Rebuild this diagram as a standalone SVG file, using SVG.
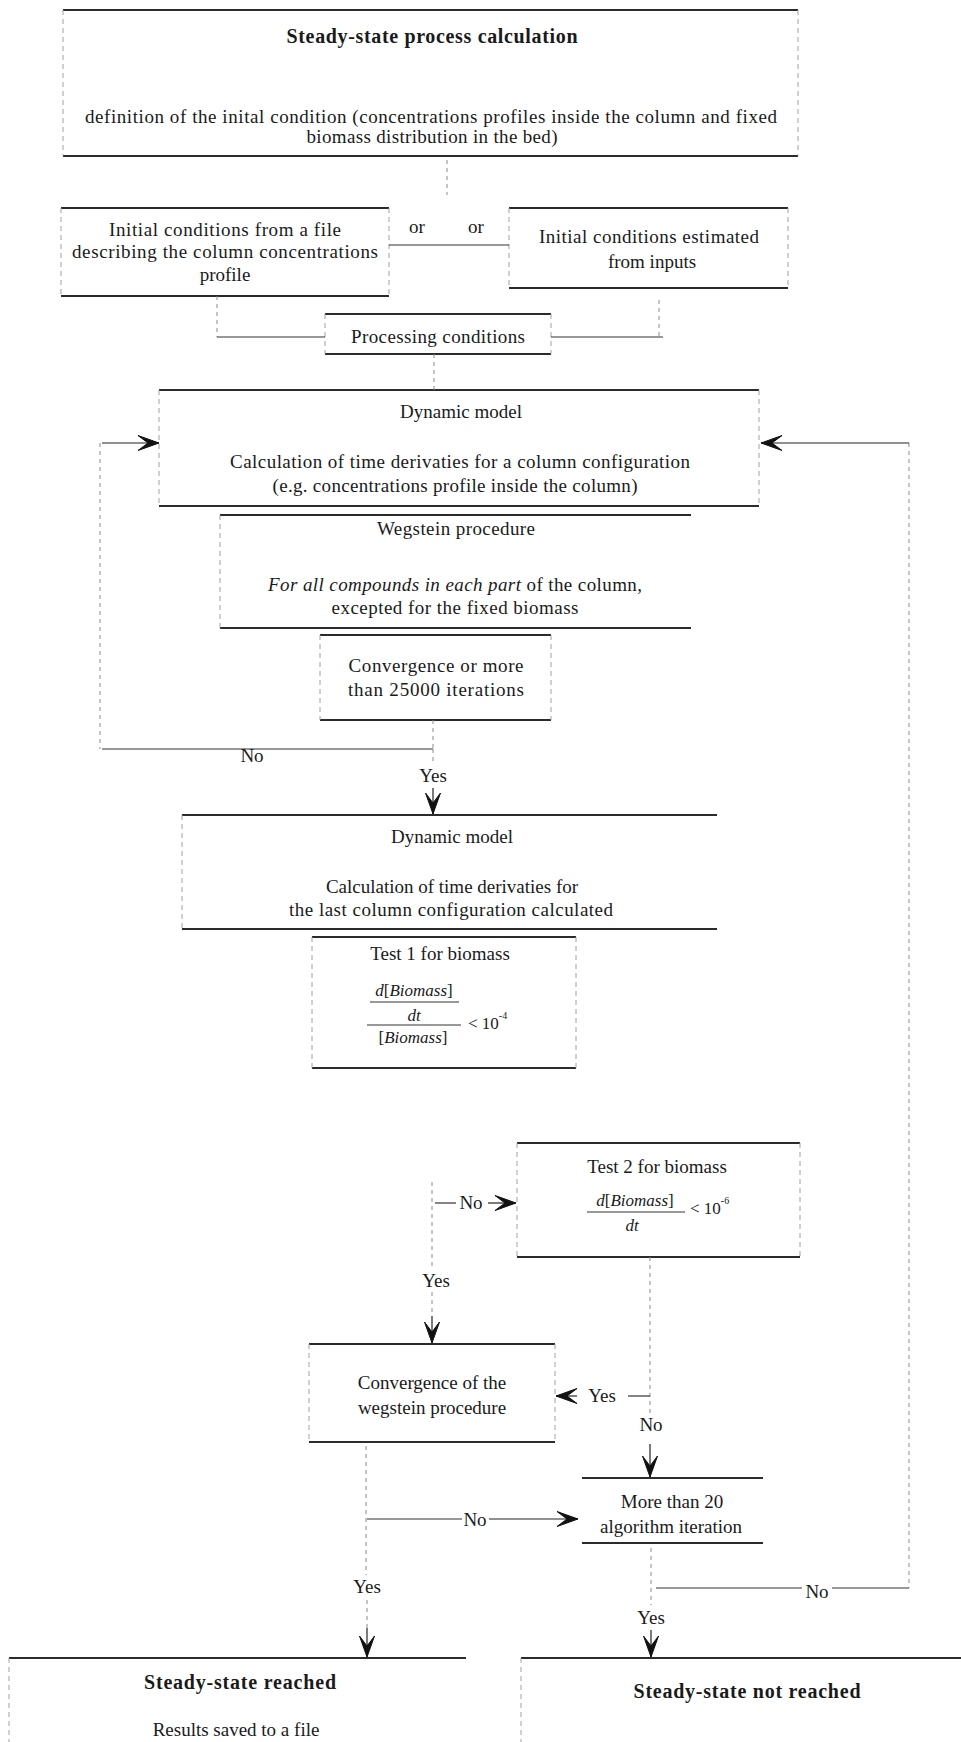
<svg xmlns="http://www.w3.org/2000/svg" width="961" height="1742" viewBox="0 0 961 1742">
<style>
.t{font-family:"Liberation Serif","Times New Roman",serif;font-size:19px;fill:#1a1a1a;text-anchor:middle}
.b{font-weight:bold;font-size:20px}
.m{font-size:17px}
.i{font-style:italic}
.sup{font-size:10px}
.hl{stroke:#2b2b2b;stroke-width:2;fill:none}
.vs{stroke:#a0a0a0;stroke-width:1;stroke-dasharray:5 4;fill:none}
.fl{stroke:#333;stroke-width:1;fill:none}
.cn{stroke:#333;stroke-width:1.2;fill:none}
.cd{stroke:#8a8a8a;stroke-width:1;stroke-dasharray:4 4;fill:none}
.ar{stroke:#222;stroke-width:1.2;fill:none;marker-end:url(#ah)}
</style>
<defs>
<marker id="ah" viewBox="-23 -9 24 18" markerWidth="24" markerHeight="18" refX="0" refY="0" orient="auto" markerUnits="userSpaceOnUse">
<path d="M0,0 L-21,-7.5 L-11,0 L-21,7.5 Z" fill="#111" stroke="#111" stroke-width="1" stroke-linejoin="round"/>
</marker>
</defs>
<rect width="961" height="1742" fill="#fff"/>

<g id="n-top">
<path class="hl" d="M63,10 H798 M63,156 H798"/>
<path class="vs" d="M63,10 V156 M798,10 V156"/>
<text class="t b" x="432" y="43" textLength="291">Steady-state process calculation</text>
<text class="t" x="431" y="123" textLength="692">definition of the inital condition (concentrations profiles inside the column and fixed</text>
<text class="t" x="432" y="143" textLength="251">biomass distribution in the bed)</text>
</g>

<g id="n-file">
<path class="hl" d="M61,208 H389 M61,296 H389"/>
<path class="vs" d="M61,208 V296 M389,208 V296"/>
<text class="t" x="225" y="236" textLength="232">Initial conditions from a file</text>
<text class="t" x="225" y="258" textLength="306">describing the column concentrations</text>
<text class="t" x="225" y="281">profile</text>
</g>

<g id="n-est">
<path class="hl" d="M509,208 H788 M509,288 H788"/>
<path class="vs" d="M509,208 V288 M788,208 V288"/>
<text class="t" x="649" y="243" textLength="220">Initial conditions estimated</text>
<text class="t" x="652" y="268">from inputs</text>
</g>

<g id="n-proc">
<path class="hl" d="M325,314 H551 M325,354 H551"/>
<path class="vs" d="M325,314 V354 M551,314 V354"/>
<text class="t" x="438" y="343" textLength="174">Processing conditions</text>
</g>

<g id="n-dyn1">
<path class="hl" d="M159,390 H759 M159,506 H759"/>
<path class="vs" d="M159,390 V506 M759,390 V506"/>
<text class="t" x="461" y="418">Dynamic model</text>
<text class="t" x="460" y="468" textLength="460">Calculation of time derivaties for a column configuration</text>
<text class="t" x="455" y="492" textLength="365">(e.g. concentrations profile inside the column)</text>
</g>

<g id="n-weg">
<path class="hl" d="M220,515 H691 M220,628 H691"/>
<path class="vs" d="M220,515 V628"/>
<text class="t" x="456" y="535" textLength="158">Wegstein procedure</text>
<text class="t" x="455" y="591" textLength="374"><tspan class="i">For all compounds in each part</tspan> of the column,</text>
<text class="t" x="455" y="614" textLength="247">excepted for the fixed biomass</text>
</g>

<g id="n-conv1">
<path class="hl" d="M320,635 H551 M320,720 H551"/>
<path class="vs" d="M320,635 V720 M551,635 V720"/>
<text class="t" x="436" y="672" textLength="175">Convergence or more</text>
<text class="t" x="436" y="696" textLength="176">than 25000 iterations</text>
</g>

<g id="n-dyn2">
<path class="hl" d="M182,815 H717 M182,929 H717"/>
<path class="vs" d="M182,815 V929"/>
<text class="t" x="452" y="843">Dynamic model</text>
<text class="t" x="452" y="893">Calculation of time derivaties for</text>
<text class="t" x="451" y="916" textLength="324">the last column configuration calculated</text>
</g>

<g id="n-test1">
<path class="hl" d="M312,937 H576 M312,1068 H576"/>
<path class="vs" d="M312,937 V1068 M576,937 V1068"/>
<text class="t" x="440" y="960">Test 1 for biomass</text>
<text class="t m" x="414" y="996"><tspan class="i">d</tspan>[<tspan class="i">Biomass</tspan>]</text>
<path class="fl" d="M370,1002 H459"/>
<text class="t m i" x="414" y="1021">dt</text>
<path class="fl" d="M367,1025 H461"/>
<text class="t m" x="413" y="1043">[<tspan class="i">Biomass</tspan>]</text>
<text class="t m" x="468" y="1029" style="text-anchor:start">&lt; 10<tspan class="sup" dy="-10">-4</tspan></text>
</g>

<g id="n-test2">
<path class="hl" d="M517,1143 H800 M517,1257 H800"/>
<path class="vs" d="M517,1143 V1257 M800,1143 V1257"/>
<text class="t" x="657" y="1173">Test 2 for biomass</text>
<text class="t m" x="635" y="1206"><tspan class="i">d</tspan>[<tspan class="i">Biomass</tspan>]</text>
<path class="fl" d="M587,1212 H685"/>
<text class="t m i" x="632" y="1231">dt</text>
<text class="t m" x="690" y="1214" style="text-anchor:start">&lt; 10<tspan class="sup" dy="-10">-6</tspan></text>
</g>

<g id="n-conv2">
<path class="hl" d="M309,1344 H555 M309,1442 H555"/>
<path class="vs" d="M309,1344 V1442 M555,1344 V1442"/>
<text class="t" x="432" y="1389">Convergence of the</text>
<text class="t" x="432" y="1414">wegstein procedure</text>
</g>

<g id="n-more">
<path class="hl" d="M582,1478 H763 M582,1543 H763"/>
<text class="t" x="672" y="1508">More than 20</text>
<text class="t" x="671" y="1533">algorithm iteration</text>
</g>

<g id="n-reached">
<path class="hl" d="M9,1658 H466"/>
<path class="vs" d="M9,1658 V1742"/>
<text class="t b" x="240" y="1689" textLength="192">Steady-state reached</text>
<text class="t" x="236" y="1736">Results saved to a file</text>
</g>

<g id="n-notreached">
<path class="hl" d="M521,1658 H961"/>
<path class="vs" d="M521,1658 V1742"/>
<text class="t b" x="747" y="1698" textLength="227">Steady-state not reached</text>
</g>

<g id="connectors">
<path class="cd" d="M447,160 V195"/>
<path class="cn" d="M389,245 H509"/>
<text class="t" x="417" y="233">or</text>
<text class="t" x="476" y="233">or</text>
<path class="cd" d="M217,296 V337"/>
<path class="cn" d="M217,337 H325"/>
<path class="cd" d="M659,300 V337"/>
<path class="cn" d="M551,337 H663"/>
<path class="cd" d="M434,354 V390"/>
<path class="cd" d="M433,720 V749"/>
<path class="cn" d="M102,749 H433"/>
<text class="t" x="252" y="762">No</text>
<path class="cd" d="M100,443 V749"/>
<path class="ar" d="M102,443 H159"/>
<path class="cd" d="M433,749 V764"/>
<text class="t" x="433" y="782">Yes</text>
<path class="ar" d="M433,788 V814"/>
<path class="cd" d="M909,443 V1588"/>
<path class="ar" d="M909,443 H761"/>
<path class="cd" d="M432,1182 V1270"/>
<path class="cn" d="M435,1203 H456"/>
<text class="t" x="471" y="1209">No</text>
<path class="ar" d="M488,1203 H516"/>
<text class="t" x="436" y="1287">Yes</text>
<path class="cd" d="M432,1292 V1316"/>
<path class="ar" d="M432,1316 V1343"/>
<path class="cd" d="M650,1257 V1416"/>
<path class="cn" d="M650,1396 H628"/>
<text class="t" x="602" y="1402">Yes</text>
<path class="ar" d="M577,1396 H556"/>
<text class="t" x="651" y="1431">No</text>
<path class="ar" d="M650,1444 V1477"/>
<path class="cd" d="M366,1446 V1575"/>
<path class="cn" d="M367,1519 H462"/>
<text class="t" x="475" y="1526">No</text>
<path class="ar" d="M489,1519 H578"/>
<text class="t" x="367" y="1593">Yes</text>
<path class="cd" d="M367,1600 V1628"/>
<path class="ar" d="M367,1628 V1657"/>
<path class="cd" d="M651,1548 V1605"/>
<path class="cn" d="M656,1588 H802"/>
<text class="t" x="817" y="1598">No</text>
<path class="cn" d="M832,1588 H909"/>
<text class="t" x="651" y="1624">Yes</text>
<path class="ar" d="M651,1630 V1657"/>
</g>
</svg>
